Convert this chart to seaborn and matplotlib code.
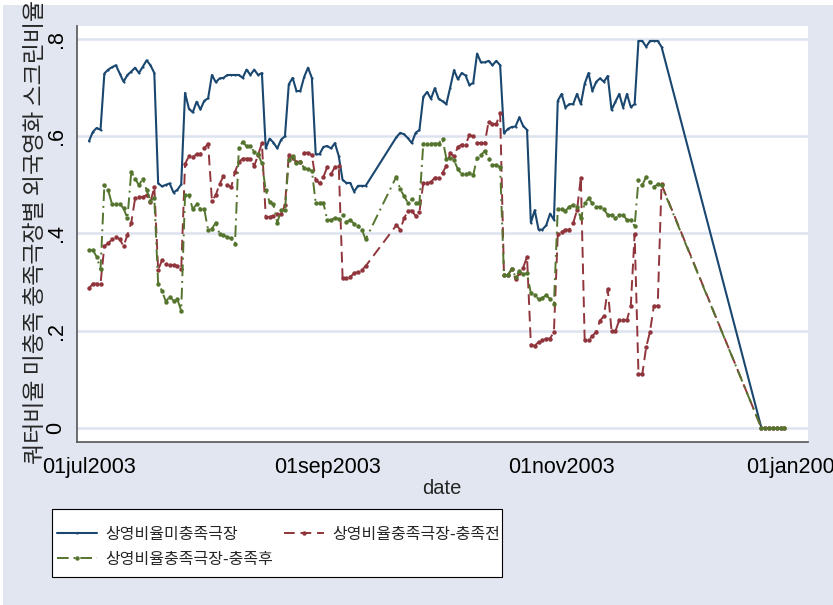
import numpy as np
import pandas as pd
import matplotlib
matplotlib.use("Agg")
import matplotlib.pyplot as plt
from matplotlib.patches import Rectangle
import seaborn as sns

# ---------------- data (days after 01jul2003) ----------------
start_date = "2003-07-01"

navy_day = list(range(0, 73)) + list(range(80, 150)) + list(range(175, 182))
navy_val = [
    .590, .609, .617, .613, .729, .737, .742, .746, .729, .712,
    .726, .733, .741, .730, .743, .756, .746, .730, .503, .497,
    .500, .503, .484, .490, .501, .689, .657, .649, .671, .655,
    .673, .678, .726, .711, .719, .720, .726, .726, .726, .726,
    .720, .737, .726, .737, .726, .730, .575, .595, .587, .575,
    .593, .600, .707, .720, .693, .693, .722, .741, .720, .563,
    .563, .578, .580, .575, .586, .559, .510, .504, .504, .486,
    .498, .498, .498,
    .598, .607, .604, .596, .586, .607, .613, .681, .691, .677,
    .699, .677, .672, .666, .700, .736, .717, .730, .725, .705,
    .710, .770, .752, .752, .755, .746, .755, .746, .606, .615,
    .619, .620, .639, .621, .613, .422, .448, .408, .408, .417,
    .441, .428, .673, .687, .659, .666, .666, .687, .666, .708,
    .730, .693, .712, .719, .712, .724, .654, .671, .687, .659,
    .687, .660, .666, .796, .796, .784, .796, .796, .796, .784,
    0, 0, 0, 0, 0, 0, 0,
]

red_day = list(range(0, 73)) + list(range(80, 150)) + list(range(175, 182))
red_val = [
    .287, .297, .297, .297, .374, .380, .388, .393, .388, .374,
    .397, .422, .472, .475, .475, .479, .465, .495, .325, .345,
    .338, .335, .335, .333, .326, .543, .559, .557, .563, .563,
    .575, .585, .467, .479, .502, .518, .500, .495, .527, .547,
    .554, .554, .554, .539, .561, .586, .434, .434, .436, .440,
    .440, .458, .561, .555, .547, .548, .566, .566, .561, .510,
    .503, .516, .537, .522, .537, .538, .308, .309, .311, .318,
    .321, .325, .333,
    .417, .408, .431, .447, .447, .436, .444, .504, .504, .506,
    .515, .515, .525, .539, .565, .559, .578, .583, .583, .602,
    .600, .586, .586, .586, .630, .625, .625, .648, .314, .314,
    .326, .306, .318, .330, .352, .171, .169, .177, .180, .184,
    .184, .198, .399, .403, .408, .408, .421, .448, .515, .181,
    .181, .189, .198, .221, .230, .285, .199, .199, .222, .222,
    .222, .251, .399, .111, .111, .166, .198, .251, .251, .501,
    0, 0, 0, 0, 0, 0, 0,
]

green_day = list(range(0, 73)) + list(range(80, 150)) + list(range(175, 182))
green_val = [
    .366, .366, .352, .326, .499, .489, .460, .460, .460, .452,
    .431, .527, .513, .499, .513, .489, .467, .472, .297, .282,
    .260, .270, .262, .265, .241, .479, .479, .450, .460, .450,
    .450, .407, .410, .422, .399, .397, .392, .390, .378, .575,
    .589, .579, .579, .568, .563, .544, .489, .465, .460, .422,
    .448, .448, .551, .559, .544, .548, .534, .532, .529, .463,
    .463, .463, .428, .428, .432, .430, .438, .424, .428, .420,
    .415, .408, .388,
    .517, .491, .477, .463, .470, .463, .463, .585, .585, .585,
    .585, .585, .595, .554, .556, .551, .532, .522, .522, .524,
    .520, .556, .561, .570, .554, .541, .541, .536, .314, .314,
    .328, .311, .322, .316, .318, .277, .273, .265, .268, .273,
    .265, .255, .450, .450, .447, .455, .459, .455, .431, .462,
    .472, .462, .455, .455, .450, .438, .438, .431, .438, .438,
    .428, .428, .415, .510, .499, .517, .505, .496, .501, .499,
    0, 0, 0, 0, 0, 0, 0,
]

series_labels = ["상영비율미충족극장", "상영비율충족극장-충족전", "상영비율충족극장-충족후"]
x_tick_dates = ["2003-07-01", "2003-09-01", "2003-11-01", "2004-01-01"]
x_tick_labels = ["01jul2003", "01sep2003", "01nov2003", "01jan2004"]
y_ticks = [0, .2, .4, .6, .8]
y_tick_labels = ["0", ".2", ".4", ".6", ".8"]
y_title = "쿼터비율 미충족 충족극장별 외국영화 스크린비율"
x_title = "date"

# ---------------- style ----------------
BG = "#E1E6F0"
GRID = "#DDE3EE"
NAVY = "#1A476F"
MAROON = "#90353B"
GREEN = "#55752F"
AXC = "#555555"
KFONT = ["Noto Sans CJK KR", "DejaVu Sans"]

sns.set_style("white")
plt.rcParams["font.family"] = ["Liberation Sans", "Noto Sans CJK KR", "DejaVu Sans"]

W, H = 833, 605
fig = plt.figure(figsize=(W / 100, H / 100), dpi=100)
fig.patch.set_facecolor("white")
fig.patches.append(Rectangle((3 / W, 0), 1, 1 - 5 / H, transform=fig.transFigure,
                             facecolor=BG, edgecolor="none", zorder=-10))

ax = fig.add_axes([77 / W, 1 - 442 / H, 731 / W, 416 / H])
ax.set_facecolor("white")

t0 = pd.Timestamp(start_date)
def to_dates(days):
    return t0 + pd.to_timedelta(days, unit="D")

df_n = pd.DataFrame({"date": to_dates(navy_day), "v": navy_val})
df_r = pd.DataFrame({"date": to_dates(red_day), "v": red_val})
df_g = pd.DataFrame({"date": to_dates(green_day), "v": green_val})

sns.lineplot(data=df_n, x="date", y="v", ax=ax, estimator=None, color=NAVY,
             lw=1.5, marker="o", markersize=1.6, markeredgewidth=0,
             label=series_labels[0], zorder=3)
sns.lineplot(data=df_r, x="date", y="v", ax=ax, estimator=None, color=MAROON,
             lw=1.4, linestyle=(0, (5.5, 3)), marker="o", markersize=3.2,
             markeredgewidth=0, label=series_labels[1], zorder=4)
sns.lineplot(data=df_g, x="date", y="v", ax=ax, estimator=None, color=GREEN,
             lw=1.4, linestyle=(0, (6, 2.5, 1, 2.5)), marker="o", markersize=3.2,
             markeredgewidth=0, label=series_labels[2], zorder=5)

# axes limits (px-calibrated)
ax.set_xlim(t0 - pd.Timedelta(days=3.12), t0 + pd.Timedelta(days=187.12))
ax.set_ylim(-0.0288, 0.8267)

ax.set_xticks(pd.to_datetime(x_tick_dates))
ax.set_xticklabels(x_tick_labels)
ax.set_yticks(y_ticks)
ax.set_yticklabels(y_tick_labels)
plt.setp(ax.get_yticklabels(), rotation=90, va="center")
ax.tick_params(axis="x", direction="out", length=6, width=1, color=AXC,
               labelsize=15.5, pad=5, labelcolor="black")
ax.tick_params(axis="y", direction="out", length=6.5, width=1, color=AXC,
               labelsize=15.5, pad=1, labelcolor="black")

ax.yaxis.grid(True, color=GRID, lw=1.8)
ax.xaxis.grid(False)
ax.set_axisbelow(True)
for s in ["top", "right"]:
    ax.spines[s].set_visible(False)
for s in ["left", "bottom"]:
    ax.spines[s].set_color(AXC)
    ax.spines[s].set_linewidth(1.2)

ax.set_xlabel("")
ax.set_ylabel("")

fig.text(36 / W, 1 - 464 / H, y_title, rotation=90, ha="center", va="bottom",
         fontsize=16.5, family=KFONT)
fig.text(442 / W, 1 - 488 / H, x_title, ha="center", va="center", fontsize=14.5)

handles, labels = ax.get_legend_handles_labels()
if ax.get_legend() is not None:
    ax.get_legend().remove()

# legend frame drawn explicitly, entries placed inside
fig.patches.append(Rectangle((52 / W, 1 - 577 / H), 450 / W, 68 / H,
                             transform=fig.transFigure, facecolor="white",
                             edgecolor="black", lw=0.8, zorder=1))
order = [0, 2, 1]
leg = fig.legend([handles[i] for i in order], [labels[i] for i in order],
                 ncol=2, loc="center left", bbox_to_anchor=(57 / W, 1 - 547 / H),
                 frameon=False, prop={"family": KFONT, "size": 11.5},
                 handlelength=2.5, handletextpad=0.5, columnspacing=0.7,
                 labelspacing=0.5, borderpad=0, borderaxespad=0)
leg.set_zorder(2)

fig.savefig("out.png", dpi=100, facecolor=fig.get_facecolor())
